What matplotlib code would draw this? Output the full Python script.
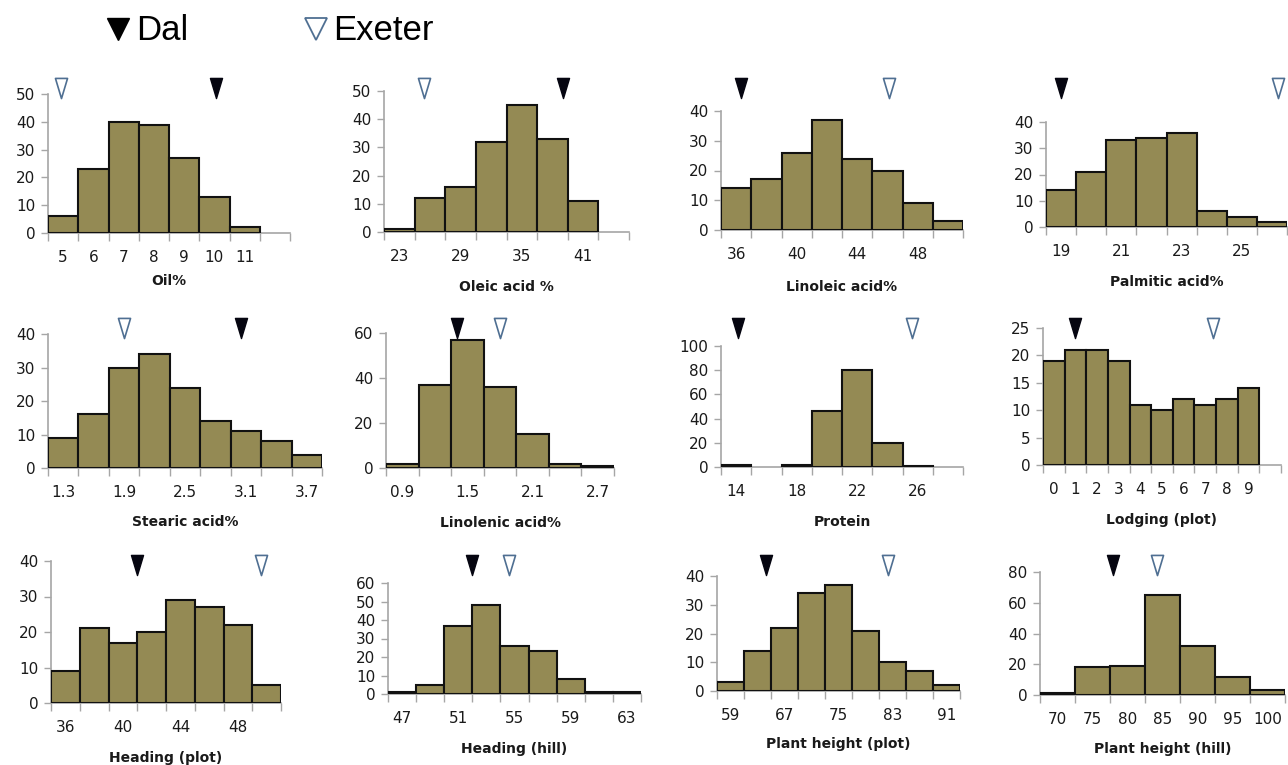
import matplotlib.pyplot as plt
import matplotlib.transforms as mtransforms
from matplotlib.lines import Line2D
from matplotlib.path import Path

W, H = 1288, 765

# bin start values, counts per bin, shown category labels, parent values
oil_bins = [5, 6, 7, 8, 9, 10, 11, 12]
oil_counts = [6, 23, 40, 39, 27, 13, 2, 0]
oil_labels = ['5', '6', '7', '8', '9', '10', '11', '']
oil_parents = [10.06, 4.93]  # Dal, Exeter

oleic_bins = [23, 26, 29, 32, 35, 38, 41, 44]
oleic_counts = [1, 12, 16, 32, 45, 33, 11, 0]
oleic_labels = ['23', '', '29', '', '35', '', '41', '']
oleic_parents = [39.0, 25.4]

linoleic_bins = [36, 38, 40, 42, 44, 46, 48, 50]
linoleic_counts = [14, 17, 26, 37, 24, 20, 9, 3]
linoleic_labels = ['36', '', '40', '', '44', '', '48', '']
linoleic_parents = [36.3, 46.1]

palmitic_bins = [19, 20, 21, 22, 23, 24, 25, 26]
palmitic_counts = [14, 21, 33, 34, 36, 6, 4, 2]
palmitic_labels = ['19', '', '21', '', '23', '', '25', '']
palmitic_parents = [19.0, 26.2]

stearic_bins = [1.3, 1.6, 1.9, 2.2, 2.5, 2.8, 3.1, 3.4, 3.7]
stearic_counts = [9, 16, 30, 34, 24, 14, 11, 8, 4]
stearic_labels = ['1.3', '', '1.9', '', '2.5', '', '3.1', '', '3.7']
stearic_parents = [3.05, 1.9]

linolenic_bins = [0.9, 1.2, 1.5, 1.8, 2.1, 2.4, 2.7]
linolenic_counts = [2, 37, 57, 36, 15, 2, 1]
linolenic_labels = ['0.9', '', '1.5', '', '2.1', '', '2.7']
linolenic_parents = [1.4, 1.8]

protein_bins = [14, 16, 18, 20, 22, 24, 26, 28]
protein_counts = [2, 0, 2, 46, 80, 20, 1, 0]
protein_labels = ['14', '', '18', '', '22', '', '26', '']
protein_parents = [14.1, 25.6]

lodging_bins = [0, 1, 2, 3, 4, 5, 6, 7, 8, 9, 10]
lodging_counts = [19, 21, 21, 19, 11, 10, 12, 11, 12, 14, 0]
lodging_labels = ['0', '1', '2', '3', '4', '5', '6', '7', '8', '9', '']
lodging_parents = [1.0, 7.35]

headplot_bins = [36, 38, 40, 42, 44, 46, 48, 50]
headplot_counts = [9, 21, 17, 20, 29, 27, 22, 5]
headplot_labels = ['36', '', '40', '', '44', '', '48', '']
headplot_parents = [41.0, 49.6]

headhill_bins = [47, 49, 51, 53, 55, 57, 59, 61, 63]
headhill_counts = [1, 5, 37, 48, 26, 23, 8, 1, 1]
headhill_labels = ['47', '', '51', '', '55', '', '59', '', '63']
headhill_parents = [52.0, 54.6]

phplot_bins = [59, 63, 67, 71, 75, 79, 83, 87, 91]
phplot_counts = [3, 14, 22, 34, 37, 21, 10, 7, 2]
phplot_labels = ['59', '', '67', '', '75', '', '83', '', '91']
phplot_parents = [64.2, 82.3]

phhill_bins = [70, 75, 80, 85, 90, 95, 100]
phhill_counts = [1, 18, 19, 65, 32, 12, 3]
phhill_labels = ['70', '75', '80', '85', '90', '95', '100']
phhill_parents = [77.9, 84.2]

titles = ['Oil%', 'Oleic acid %', 'Linoleic acid%', 'Palmitic acid%',
          'Stearic acid%', 'Linolenic acid%', 'Protein', 'Lodging (plot)',
          'Heading (plot)', 'Heading (hill)', 'Plant height (plot)', 'Plant height (hill)']
y_max = [50, 50, 40, 40, 40, 60, 100, 25, 40, 60, 40, 80]
y_step = [10, 10, 10, 10, 10, 20, 20, 5, 10, 10, 10, 20]

panels = [
    (oil_bins, oil_counts, oil_labels, oil_parents),
    (oleic_bins, oleic_counts, oleic_labels, oleic_parents),
    (linoleic_bins, linoleic_counts, linoleic_labels, linoleic_parents),
    (palmitic_bins, palmitic_counts, palmitic_labels, palmitic_parents),
    (stearic_bins, stearic_counts, stearic_labels, stearic_parents),
    (linolenic_bins, linolenic_counts, linolenic_labels, linolenic_parents),
    (protein_bins, protein_counts, protein_labels, protein_parents),
    (lodging_bins, lodging_counts, lodging_labels, lodging_parents),
    (headplot_bins, headplot_counts, headplot_labels, headplot_parents),
    (headhill_bins, headhill_counts, headhill_labels, headhill_parents),
    (phplot_bins, phplot_counts, phplot_labels, phplot_parents),
    (phhill_bins, phhill_counts, phhill_labels, phhill_parents),
]

# axes boxes in pixels: left, top, right, bottom
boxes = [
    (48, 94, 290, 233), (384, 91, 629, 232), (721, 111, 963, 230), (1046, 122, 1287, 227),
    (48, 334, 322, 468), (386, 333, 614, 468), (721, 346, 963, 467), (1043, 328, 1281, 465),
    (51, 561, 281, 703), (388, 583, 641, 694), (717, 576, 960, 691), (1040, 572, 1285, 695),
]
marker_y = [88, 88, 88, 88, 328, 328, 328, 328, 565, 565, 565, 565]
label_y = [281, 287, 287, 282, 522, 523, 522, 520, 758, 749, 744, 749]

BAR = '#948A54'
GRAY = '#a6a6a6'
TXT = '#1a1a1a'
OPEN_EDGE = '#4f6f92'

tri = Path([(-0.3, 0.5), (0.3, 0.5), (0.0, -0.5), (-0.3, 0.5)],
           [Path.MOVETO, Path.LINETO, Path.LINETO, Path.CLOSEPOLY])

fig = plt.figure(figsize=(W / 100, H / 100), dpi=100)

for k, (bins, counts, labels, parents) in enumerate(panels):
    l, t, r, b = boxes[k]
    ax = fig.add_axes([l / W, 1 - b / H, (r - l) / W, (b - t) / H])
    n = len(bins)
    idx = [i for i, c in enumerate(counts) if c > 0]
    ax.bar(idx, [counts[i] for i in idx], width=1.0, color=BAR,
           edgecolor='#111111', linewidth=1.5, zorder=3)
    ax.set_xlim(-0.5, n - 0.5)
    ax.set_ylim(0, y_max[k])
    ax.set_yticks(range(0, y_max[k] + 1, y_step[k]))
    ax.set_xticks([i - 0.5 for i in range(n + 1)])
    ax.set_xticklabels([])
    ax.set_xticks(range(n), minor=True)
    ax.set_xticklabels(labels, minor=True)
    ax.tick_params(axis='x', which='major', length=6, width=1, color=GRAY, direction='out')
    ax.tick_params(axis='x', which='minor', length=0, pad=12, labelsize=11, labelcolor=TXT)
    ax.tick_params(axis='y', length=5, width=1, color=GRAY, pad=4, labelsize=11, labelcolor=TXT)
    for s in ['top', 'right']:
        ax.spines[s].set_visible(False)
    for s in ['left', 'bottom']:
        ax.spines[s].set_color(GRAY)
        ax.spines[s].set_linewidth(1.2)

    # parent markers above the panel
    step = bins[1] - bins[0]
    trans = mtransforms.blended_transform_factory(ax.transData, fig.transFigure)
    yy = 1 - marker_y[k] / H
    dal_x = (parents[0] - bins[0]) / step
    exe_x = (parents[1] - bins[0]) / step
    ax.plot([dal_x], [yy], marker=tri, markersize=14.5, color='#050510',
            markeredgecolor='#050510', transform=trans, clip_on=False, zorder=5)
    ax.plot([exe_x], [yy], marker=tri, markersize=14.5, markerfacecolor='white',
            markeredgecolor=OPEN_EDGE, markeredgewidth=1.2, transform=trans,
            clip_on=False, zorder=5)

    fig.text((l + r) / 2 / W, 1 - label_y[k] / H, titles[k], ha='center', va='center',
             fontsize=10, fontweight='bold', color=TXT)

# legend at top
fig.add_artist(Line2D([118 / W], [1 - 29 / H], marker='v', markersize=16, color='black',
                      transform=fig.transFigure))
fig.text(136 / W, 1 - 40 / H, 'Dal', fontsize=25, family='Liberation Sans', color='black')
fig.add_artist(Line2D([316 / W], [1 - 29 / H], marker='v', markersize=16, markerfacecolor='white',
                      markeredgecolor=OPEN_EDGE, markeredgewidth=1.3, transform=fig.transFigure))
fig.text(333 / W, 1 - 40 / H, 'Exeter', fontsize=25, family='Liberation Sans', color='black')

fig.savefig('out.png', dpi=100)
